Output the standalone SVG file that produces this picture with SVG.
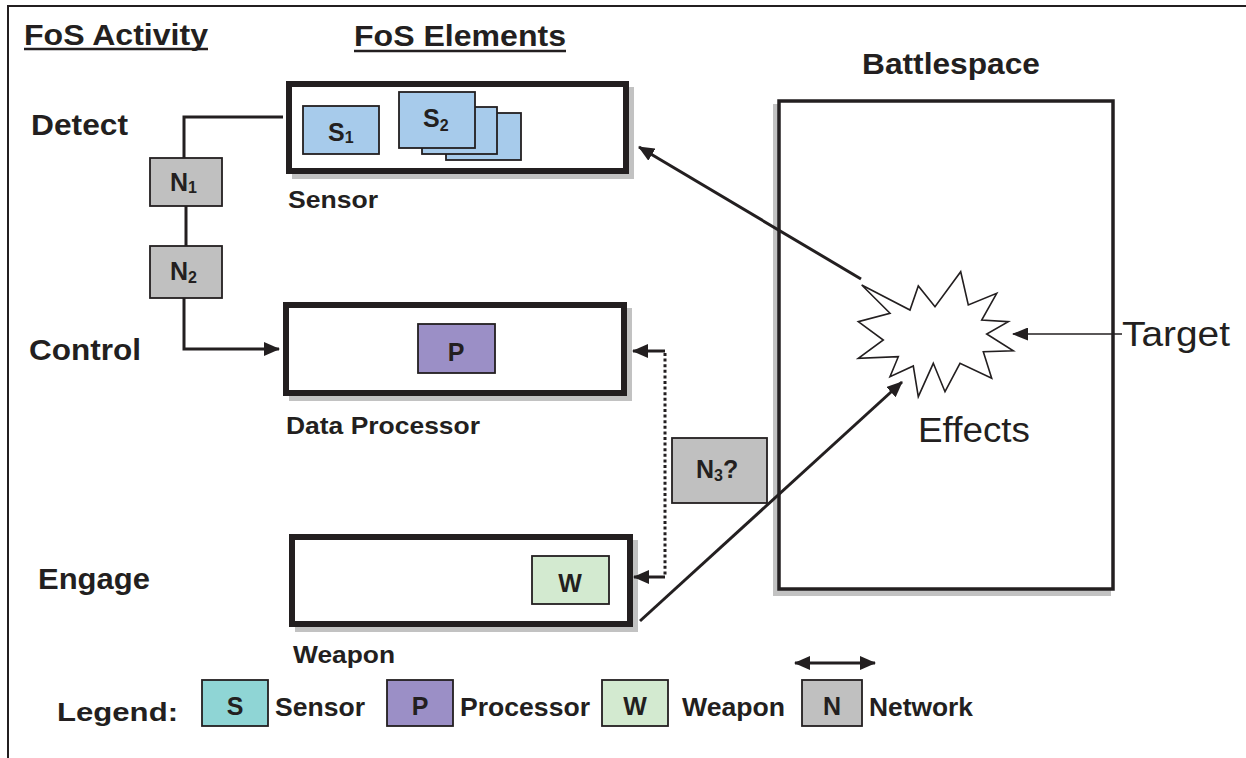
<svg xmlns="http://www.w3.org/2000/svg" width="1246" height="758" viewBox="0 0 1246 758">
<defs>
<style>
text{font-family:"Liberation Sans",Arial,Helvetica,sans-serif;fill:#231f20}
.h{font-size:30px;font-weight:bold}
.act{font-size:30px;font-weight:bold}
.lbl{font-size:24px;font-weight:bold}
.in{font-size:25px;font-weight:bold}
.leg{font-size:26px;font-weight:bold}
.frame{fill:#fff;stroke:#231f20;stroke-width:6}
.shadow{fill:#c2c2c2;stroke:none}
.small{stroke:#231f20;stroke-width:1.8}
.conn{fill:none;stroke:#231f20;stroke-width:3}
.thin{fill:none;stroke:#231f20;stroke-width:1.6}
</style>
<marker id="ah" viewBox="0 0 16 14" refX="15" refY="7" markerWidth="16" markerHeight="14" markerUnits="userSpaceOnUse" orient="auto-start-reverse">
<path d="M0,0 L16,7 L0,14 Z" fill="#231f20"/>
</marker>
<marker id="ahs" viewBox="0 0 16 13" refX="15" refY="6.5" markerWidth="16" markerHeight="13" markerUnits="userSpaceOnUse" orient="auto">
<path d="M0,0 L16,6.5 L0,13 Z" fill="#231f20"/>
</marker>
</defs>
<rect width="1246" height="758" fill="#fff"/>
<!-- outer frame -->
<path d="M8,758 V6 H1246" fill="none" stroke="#231f20" stroke-width="2"/>

<!-- headings -->
<g id="headings">
<text class="h" x="24" y="45" textLength="184" lengthAdjust="spacingAndGlyphs">FoS Activity</text>
<line x1="24" y1="49" x2="208" y2="49" stroke="#231f20" stroke-width="2.5"/>
<text class="h" x="354" y="46" textLength="212" lengthAdjust="spacingAndGlyphs">FoS Elements</text>
<line x1="354" y1="51" x2="566" y2="51" stroke="#231f20" stroke-width="2.5"/>
<text class="h" x="862" y="74" textLength="178" lengthAdjust="spacingAndGlyphs">Battlespace</text>
</g>

<!-- activities -->
<g id="activities">
<text class="act" x="31" y="135" textLength="97" lengthAdjust="spacingAndGlyphs">Detect</text>
<text class="act" x="29" y="360" textLength="112" lengthAdjust="spacingAndGlyphs">Control</text>
<text class="act" x="38" y="589" textLength="112" lengthAdjust="spacingAndGlyphs">Engage</text>
</g>

<!-- sensor element -->
<g id="sensor">
<rect class="shadow" x="292" y="87" width="342" height="92"/>
<rect class="frame" x="289" y="84" width="337" height="87"/>
<rect class="small" fill="#a7cbeb" x="303" y="106" width="76" height="48"/>
<text class="in" x="328" y="141">S<tspan font-size="16" dy="2">1</tspan></text>
<rect class="small" fill="#a7cbeb" x="446" y="113" width="75" height="47"/>
<rect class="small" fill="#a7cbeb" x="422" y="107" width="75" height="47"/>
<rect class="small" fill="#a7cbeb" x="399" y="92" width="76" height="56"/>
<text class="in" x="423" y="127">S<tspan font-size="16" dy="4">2</tspan></text>
<text class="lbl" x="288" y="208" textLength="90" lengthAdjust="spacingAndGlyphs">Sensor</text>
</g>

<!-- data processor element -->
<g id="processor">
<rect class="shadow" x="289" y="308" width="343" height="93"/>
<rect class="frame" x="286" y="305" width="338" height="88"/>
<rect class="small" fill="#9b8fc6" x="418" y="324" width="77" height="49"/>
<text class="in" x="456" y="361" text-anchor="middle">P</text>
<text class="lbl" x="286" y="434" textLength="194" lengthAdjust="spacingAndGlyphs">Data Processor</text>
</g>

<!-- weapon element -->
<g id="weapon">
<rect class="shadow" x="295" y="540" width="343" height="92"/>
<rect class="frame" x="292" y="537" width="338" height="87"/>
<rect class="small" fill="#d3ead0" x="532" y="556" width="77" height="48"/>
<text class="in" x="570" y="592" text-anchor="middle">W</text>
<text class="lbl" x="293" y="663" textLength="102" lengthAdjust="spacingAndGlyphs">Weapon</text>
</g>

<!-- battlespace -->
<g id="battlespace">
<rect class="shadow" x="773" y="104" width="338" height="492"/>
<rect x="779" y="101" width="334" height="488" fill="#fff" stroke="#231f20" stroke-width="3.5"/>
</g>

<!-- network nodes -->
<g id="n1">
<rect class="small" fill="#c0c0c0" x="150" y="158" width="72" height="48"/>
<text class="in" x="170" y="191">N<tspan font-size="16" dy="2">1</tspan></text>
</g>
<g id="n2">
<rect class="small" fill="#c0c0c0" x="150" y="246" width="72" height="52"/>
<text class="in" x="170" y="280">N<tspan font-size="16" dy="3">2</tspan></text>
</g>

<!-- connectors -->
<g id="connectors">
<path class="conn" d="M283,117 H184 V158"/>
<path class="conn" d="M186,206 V246"/>
<path class="conn" d="M184,298 V349 H279" marker-end="url(#ah)"/>
<path class="conn" d="M665,351 H633" marker-end="url(#ah)"/>
<path class="conn" d="M665,577 H634" marker-end="url(#ah)"/>
<path class="conn" d="M665,353 V575" stroke-dasharray="3 2.6"/>
<line class="conn" x1="861" y1="279" x2="639" y2="147" marker-end="url(#ah)"/>
<line class="conn" x1="640" y1="621" x2="902" y2="382" marker-end="url(#ah)"/>
<line class="thin" x1="1122" y1="334" x2="1013" y2="334" marker-end="url(#ahs)"/>
</g>

<!-- N3 node -->
<g id="n3">
<rect class="small" fill="#c0c0c0" x="672" y="438" width="95" height="65"/>
<text class="in" x="696" y="478">N<tspan font-size="16" dy="3">3</tspan><tspan dy="-3">?</tspan></text>
</g>

<!-- effects -->
<g id="effects">
<polygon points="861.7,285 910,310 918.3,286 935,306.7 960.7,271.7 968.3,305 996.7,293.3 981.7,320 1008.3,321.7 986.7,334 1013.3,350.7 983.3,351.7 991.7,378.3 960,363.3 945,391.7 933.3,363.3 918.3,396.7 913.3,366 890,376.7 898.3,356.7 858.3,358.3 883.3,340 858.3,321.7 890,313.3" fill="#fff" stroke="#231f20" stroke-width="1.6" stroke-linejoin="miter"/>
<text x="918" y="442" font-size="35" textLength="112" lengthAdjust="spacingAndGlyphs">Effects</text>
</g>

<g id="target">
<text x="1122" y="346" font-size="35" textLength="108" lengthAdjust="spacingAndGlyphs">Target</text>
</g>

<!-- legend -->
<g id="legend">
<text class="leg" x="57" y="721" font-size="30" textLength="121" lengthAdjust="spacingAndGlyphs">Legend:</text>
<rect class="small" fill="#8fd5d5" x="202" y="680" width="66" height="46"/>
<text class="in" x="235" y="715" text-anchor="middle" font-size="23">S</text>
<text class="leg" x="275" y="716" textLength="90" lengthAdjust="spacingAndGlyphs">Sensor</text>
<rect class="small" fill="#9b8fc6" x="387" y="680" width="66" height="46"/>
<text class="in" x="420" y="715" text-anchor="middle" font-size="23">P</text>
<text class="leg" x="460" y="716" textLength="130" lengthAdjust="spacingAndGlyphs">Processor</text>
<rect class="small" fill="#d3ead0" x="602" y="680" width="66" height="46"/>
<text class="in" x="635" y="715" text-anchor="middle" font-size="23">W</text>
<text class="leg" x="682" y="716" textLength="103" lengthAdjust="spacingAndGlyphs">Weapon</text>
<rect class="small" fill="#c0c0c0" x="802" y="680" width="60" height="46"/>
<text class="in" x="832" y="715" text-anchor="middle" font-size="23">N</text>
<text class="leg" x="869" y="716" textLength="104" lengthAdjust="spacingAndGlyphs">Network</text>
<line class="conn" x1="795" y1="663" x2="875" y2="663" marker-start="url(#ah)" marker-end="url(#ah)"/>
</g>
</svg>
